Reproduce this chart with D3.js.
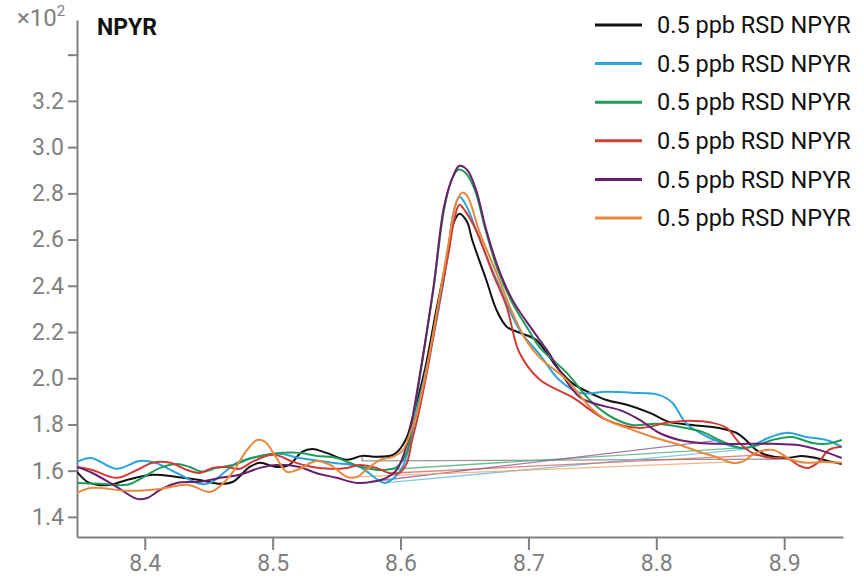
<!DOCTYPE html>
<html>
<head>
<meta charset="utf-8">
<script src="https://cdn.jsdelivr.net/npm/d3@7"></script>
<style>
  body { margin: 0; background: #fff; }
  svg { display: block; font-family: Roboto, 'Noto Sans', sans-serif; }
  .axis path, .axis line { stroke: #808080; stroke-width: 2; }
  .axis text { fill: #7f7f7f; font-size: 23px; font-family: Roboto, sans-serif; }
  .trace { fill: none; stroke-width: 2; stroke-linejoin: round; }
  .baseline { fill: none; stroke-width: 1.3; stroke-opacity: 0.8; }
</style>
</head>
<body>
<svg width="864" height="579"></svg>
<script>
// retention time (min) vs signal (x10^2)
const run1 = [
  [8.347,1.595],[8.355,1.552],[8.3625,1.539],[8.373,1.539],[8.386,1.560],[8.406,1.582],[8.425,1.573],
  [8.443,1.560],[8.459,1.543],[8.469,1.552],[8.482,1.616],[8.490,1.634],[8.503,1.616],[8.513,1.625],
  [8.523,1.681],[8.531,1.694],[8.542,1.677],[8.558,1.647],[8.570,1.664],[8.581,1.660],[8.594,1.668],
  [8.599,1.690],[8.605,1.746],[8.609,1.820],[8.619,2.036],[8.628,2.296],[8.636,2.513],[8.641,2.664],
  [8.646,2.712],[8.652,2.677],[8.656,2.599],[8.667,2.426],[8.675,2.296],[8.683,2.223],[8.693,2.197],
  [8.706,2.166],[8.722,2.049],[8.734,1.980],[8.748,1.937],[8.761,1.906],[8.777,1.885],[8.795,1.850],
  [8.810,1.811],[8.828,1.798],[8.849,1.785],[8.8625,1.764],[8.870,1.733],[8.878,1.690],[8.886,1.668],
  [8.902,1.655],[8.914,1.664],[8.925,1.655],[8.9375,1.638],[8.945,1.629]
];
const run2 = [
  [8.347,1.638],[8.358,1.655],[8.378,1.608],[8.396,1.642],[8.408,1.634],[8.425,1.590],[8.443,1.543],
  [8.451,1.547],[8.472,1.634],[8.4875,1.660],[8.505,1.673],[8.521,1.655],[8.547,1.634],[8.568,1.616],
  [8.581,1.565],[8.5875,1.547],[8.595,1.569],[8.602,1.621],[8.607,1.712],[8.611,1.820],[8.620,2.036],
  [8.629,2.275],[8.637,2.535],[8.641,2.707],[8.646,2.785],[8.651,2.751],[8.662,2.599],[8.675,2.426],
  [8.693,2.210],[8.709,2.101],[8.724,1.993],[8.740,1.937],[8.761,1.941],[8.781,1.937],[8.802,1.928],
  [8.8125,1.894],[8.823,1.807],[8.834,1.764],[8.849,1.725],[8.865,1.699],[8.873,1.703],[8.886,1.738],
  [8.902,1.764],[8.917,1.746],[8.933,1.733],[8.945,1.703]
];
const run3 = [
  [8.347,1.547],[8.365,1.543],[8.386,1.539],[8.398,1.569],[8.412,1.612],[8.425,1.629],[8.435,1.616],
  [8.445,1.595],[8.456,1.612],[8.469,1.625],[8.484,1.655],[8.500,1.673],[8.521,1.677],[8.534,1.664],
  [8.550,1.655],[8.560,1.634],[8.570,1.616],[8.584,1.603],[8.597,1.616],[8.605,1.681],[8.609,1.798],
  [8.617,2.071],[8.626,2.396],[8.634,2.729],[8.640,2.859],[8.645,2.902],[8.650,2.893],[8.658,2.816],
  [8.666,2.651],[8.676,2.469],[8.687,2.331],[8.701,2.201],[8.709,2.132],[8.730,2.023],[8.750,1.894],
  [8.766,1.829],[8.781,1.798],[8.800,1.803],[8.818,1.790],[8.836,1.768],[8.849,1.733],[8.865,1.699],
  [8.875,1.703],[8.891,1.733],[8.906,1.746],[8.922,1.720],[8.933,1.716],[8.945,1.733]
];
const run4 = [
  [8.347,1.616],[8.359,1.603],[8.378,1.569],[8.394,1.603],[8.406,1.634],[8.420,1.634],[8.433,1.603],
  [8.443,1.590],[8.453,1.612],[8.464,1.616],[8.474,1.608],[8.484,1.638],[8.498,1.668],[8.505,1.664],
  [8.516,1.638],[8.531,1.616],[8.545,1.608],[8.558,1.612],[8.568,1.625],[8.581,1.612],[8.591,1.590],
  [8.599,1.590],[8.605,1.634],[8.609,1.733],[8.613,1.820],[8.621,2.036],[8.630,2.318],[8.638,2.556],
  [8.642,2.686],[8.646,2.751],[8.651,2.720],[8.659,2.642],[8.672,2.456],[8.683,2.309],[8.693,2.110],
  [8.709,1.993],[8.734,1.919],[8.761,1.820],[8.787,1.785],[8.808,1.807],[8.826,1.816],[8.844,1.807],
  [8.855,1.785],[8.865,1.720],[8.875,1.677],[8.891,1.655],[8.902,1.655],[8.912,1.621],[8.919,1.612],
  [8.927,1.638],[8.935,1.690],[8.945,1.703]
];
const run5 = [
  [8.347,1.616],[8.359,1.590],[8.378,1.530],[8.394,1.478],[8.402,1.482],[8.412,1.517],[8.425,1.547],
  [8.443,1.552],[8.459,1.569],[8.474,1.582],[8.490,1.612],[8.503,1.625],[8.521,1.616],[8.534,1.590],
  [8.550,1.569],[8.566,1.547],[8.578,1.552],[8.589,1.569],[8.597,1.603],[8.605,1.712],[8.609,1.820],
  [8.617,2.080],[8.626,2.404],[8.634,2.742],[8.641,2.872],[8.646,2.919],[8.652,2.902],[8.659,2.816],
  [8.667,2.642],[8.677,2.469],[8.6875,2.339],[8.703,2.210],[8.716,2.110],[8.724,2.036],[8.740,1.919],
  [8.755,1.885],[8.771,1.863],[8.787,1.820],[8.802,1.764],[8.818,1.733],[8.834,1.720],[8.849,1.716],
  [8.873,1.716],[8.891,1.716],[8.912,1.710],[8.927,1.690],[8.945,1.655]
];
const run6 = [
  [8.347,1.504],[8.359,1.526],[8.386,1.513],[8.412,1.521],[8.433,1.539],[8.451,1.508],[8.459,1.534],
  [8.469,1.595],[8.480,1.690],[8.488,1.733],[8.494,1.725],[8.503,1.655],[8.511,1.595],[8.519,1.603],
  [8.534,1.642],[8.545,1.625],[8.558,1.573],[8.566,1.573],[8.573,1.603],[8.584,1.647],[8.594,1.660],
  [8.602,1.690],[8.607,1.755],[8.6125,1.842],[8.621,2.058],[8.630,2.339],[8.638,2.599],[8.643,2.751],
  [8.648,2.803],[8.652,2.790],[8.662,2.629],[8.675,2.456],[8.6875,2.283],[8.698,2.166],[8.709,2.088],
  [8.730,1.993],[8.748,1.876],[8.761,1.820],[8.777,1.785],[8.797,1.746],[8.818,1.712],[8.834,1.681],
  [8.849,1.655],[8.859,1.634],[8.867,1.638],[8.878,1.677],[8.891,1.690],[8.906,1.647],[8.917,1.634],
  [8.930,1.638],[8.945,1.634]
];

// integration baselines drawn under the peak, one per run
const baseline1 = [[8.570,1.664],[8.570,1.642],[8.904,1.650]];
const baseline2 = [[8.5875,1.547],[8.873,1.694]];
const baseline3 = [[8.584,1.603],[8.866,1.699]];
const baseline4 = [[8.595,1.590],[8.884,1.668]];
const baseline5 = [[8.576,1.552],[8.845,1.729]];
const baseline6 = [[8.566,1.573],[8.859,1.638]];

const legendLabels = ['0.5 ppb RSD NPYR', '0.5 ppb RSD NPYR', '0.5 ppb RSD NPYR',
                      '0.5 ppb RSD NPYR', '0.5 ppb RSD NPYR', '0.5 ppb RSD NPYR'];
const colors = ['#111111', '#2aa5dc', '#1e9b56', '#d03c33', '#6b1f6d', '#e8883a'];
const baselineColors = ['#7a7a7a', '#5fb9e3', '#4fae78', '#d9625b', '#8e5a8f', '#eda268'];
const xTicks = [8.4, 8.5, 8.6, 8.7, 8.8, 8.9];
const yTicks = [1.4, 1.6, 1.8, 2.0, 2.2, 2.4, 2.6, 2.8, 3.0, 3.2, 3.4];

(function (d3) {
  'use strict';

  const svg = d3.select('svg');
  const left = 77, right = 843, top = 20, bottom = 537;

  const x = d3.scaleLinear().domain([8.347, 8.946]).range([left, right]);
  const y = d3.scaleLinear().domain([1.313, 3.55]).range([bottom, top]);

  svg.append('defs').append('clipPath')
      .attr('id', 'plot')
    .append('rect')
      .attr('x', left).attr('y', top)
      .attr('width', right - left).attr('height', bottom - top);

  // axes
  svg.append('g')
      .attr('class', 'axis')
      .attr('transform', `translate(${left},0)`)
      .call(d3.axisLeft(y).tickValues(yTicks).tickSize(9).tickSizeOuter(0).tickPadding(4)
        .tickFormat(d => d > 3.3 ? '' : d.toFixed(1)));

  svg.append('g')
      .attr('class', 'axis')
      .attr('transform', `translate(0,${bottom})`)
      .call(d3.axisBottom(x).tickValues(xTicks).tickSize(13).tickSizeOuter(0).tickPadding(5)
        .tickFormat(d3.format('.1f')));

  const line = d3.line()
    .x(d => x(d[0]))
    .y(d => y(d[1]))
    .curve(d3.curveCatmullRom.alpha(0.5));

  const straight = d3.line()
    .x(d => x(d[0]))
    .y(d => y(d[1]));

  const g = svg.append('g').attr('clip-path', 'url(#plot)');

  const baselines = [baseline1, baseline2, baseline3, baseline4, baseline5, baseline6];
  g.selectAll('path.baseline')
    .data(baselines)
    .enter()
    .append('path')
      .attr('class', 'baseline')
      .attr('stroke', (d, i) => baselineColors[i])
      .attr('d', straight);

  const runs = [run1, run2, run3, run4, run5, run6];
  g.selectAll('path.trace')
    .data(runs)
    .enter()
    .append('path')
      .attr('class', 'trace')
      .attr('stroke', (d, i) => colors[i])
      .attr('d', line);

  // exponent label and compound name
  const exp = svg.append('text')
      .attr('x', 17)
      .attr('y', 26)
      .attr('fill', '#808080')
      .attr('font-size', 24)
      .text('×10');
  exp.append('tspan')
      .attr('font-size', 15)
      .attr('dy', -10)
      .text('2');

  svg.append('text')
      .attr('x', 97)
      .attr('y', 35)
      .attr('font-size', 23)
      .attr('font-weight', 'bold')
      .attr('fill', '#111')
      .text('NPYR');

  // legend
  const legend = svg.append('g').attr('transform', 'translate(595,25)');
  const items = legend.selectAll('g')
    .data(legendLabels)
    .enter()
    .append('g')
      .attr('transform', (d, i) => `translate(0,${i * 38.6})`);

  items.append('line')
      .attr('x1', 0).attr('x2', 47)
      .attr('stroke', (d, i) => colors[i])
      .attr('stroke-width', 3);

  items.append('text')
      .attr('x', 62)
      .attr('dy', '0.35em')
      .attr('font-size', 23.5)
      .attr('fill', '#111')
      .text(d => d);

}(d3));
</script>
</body>
</html>
